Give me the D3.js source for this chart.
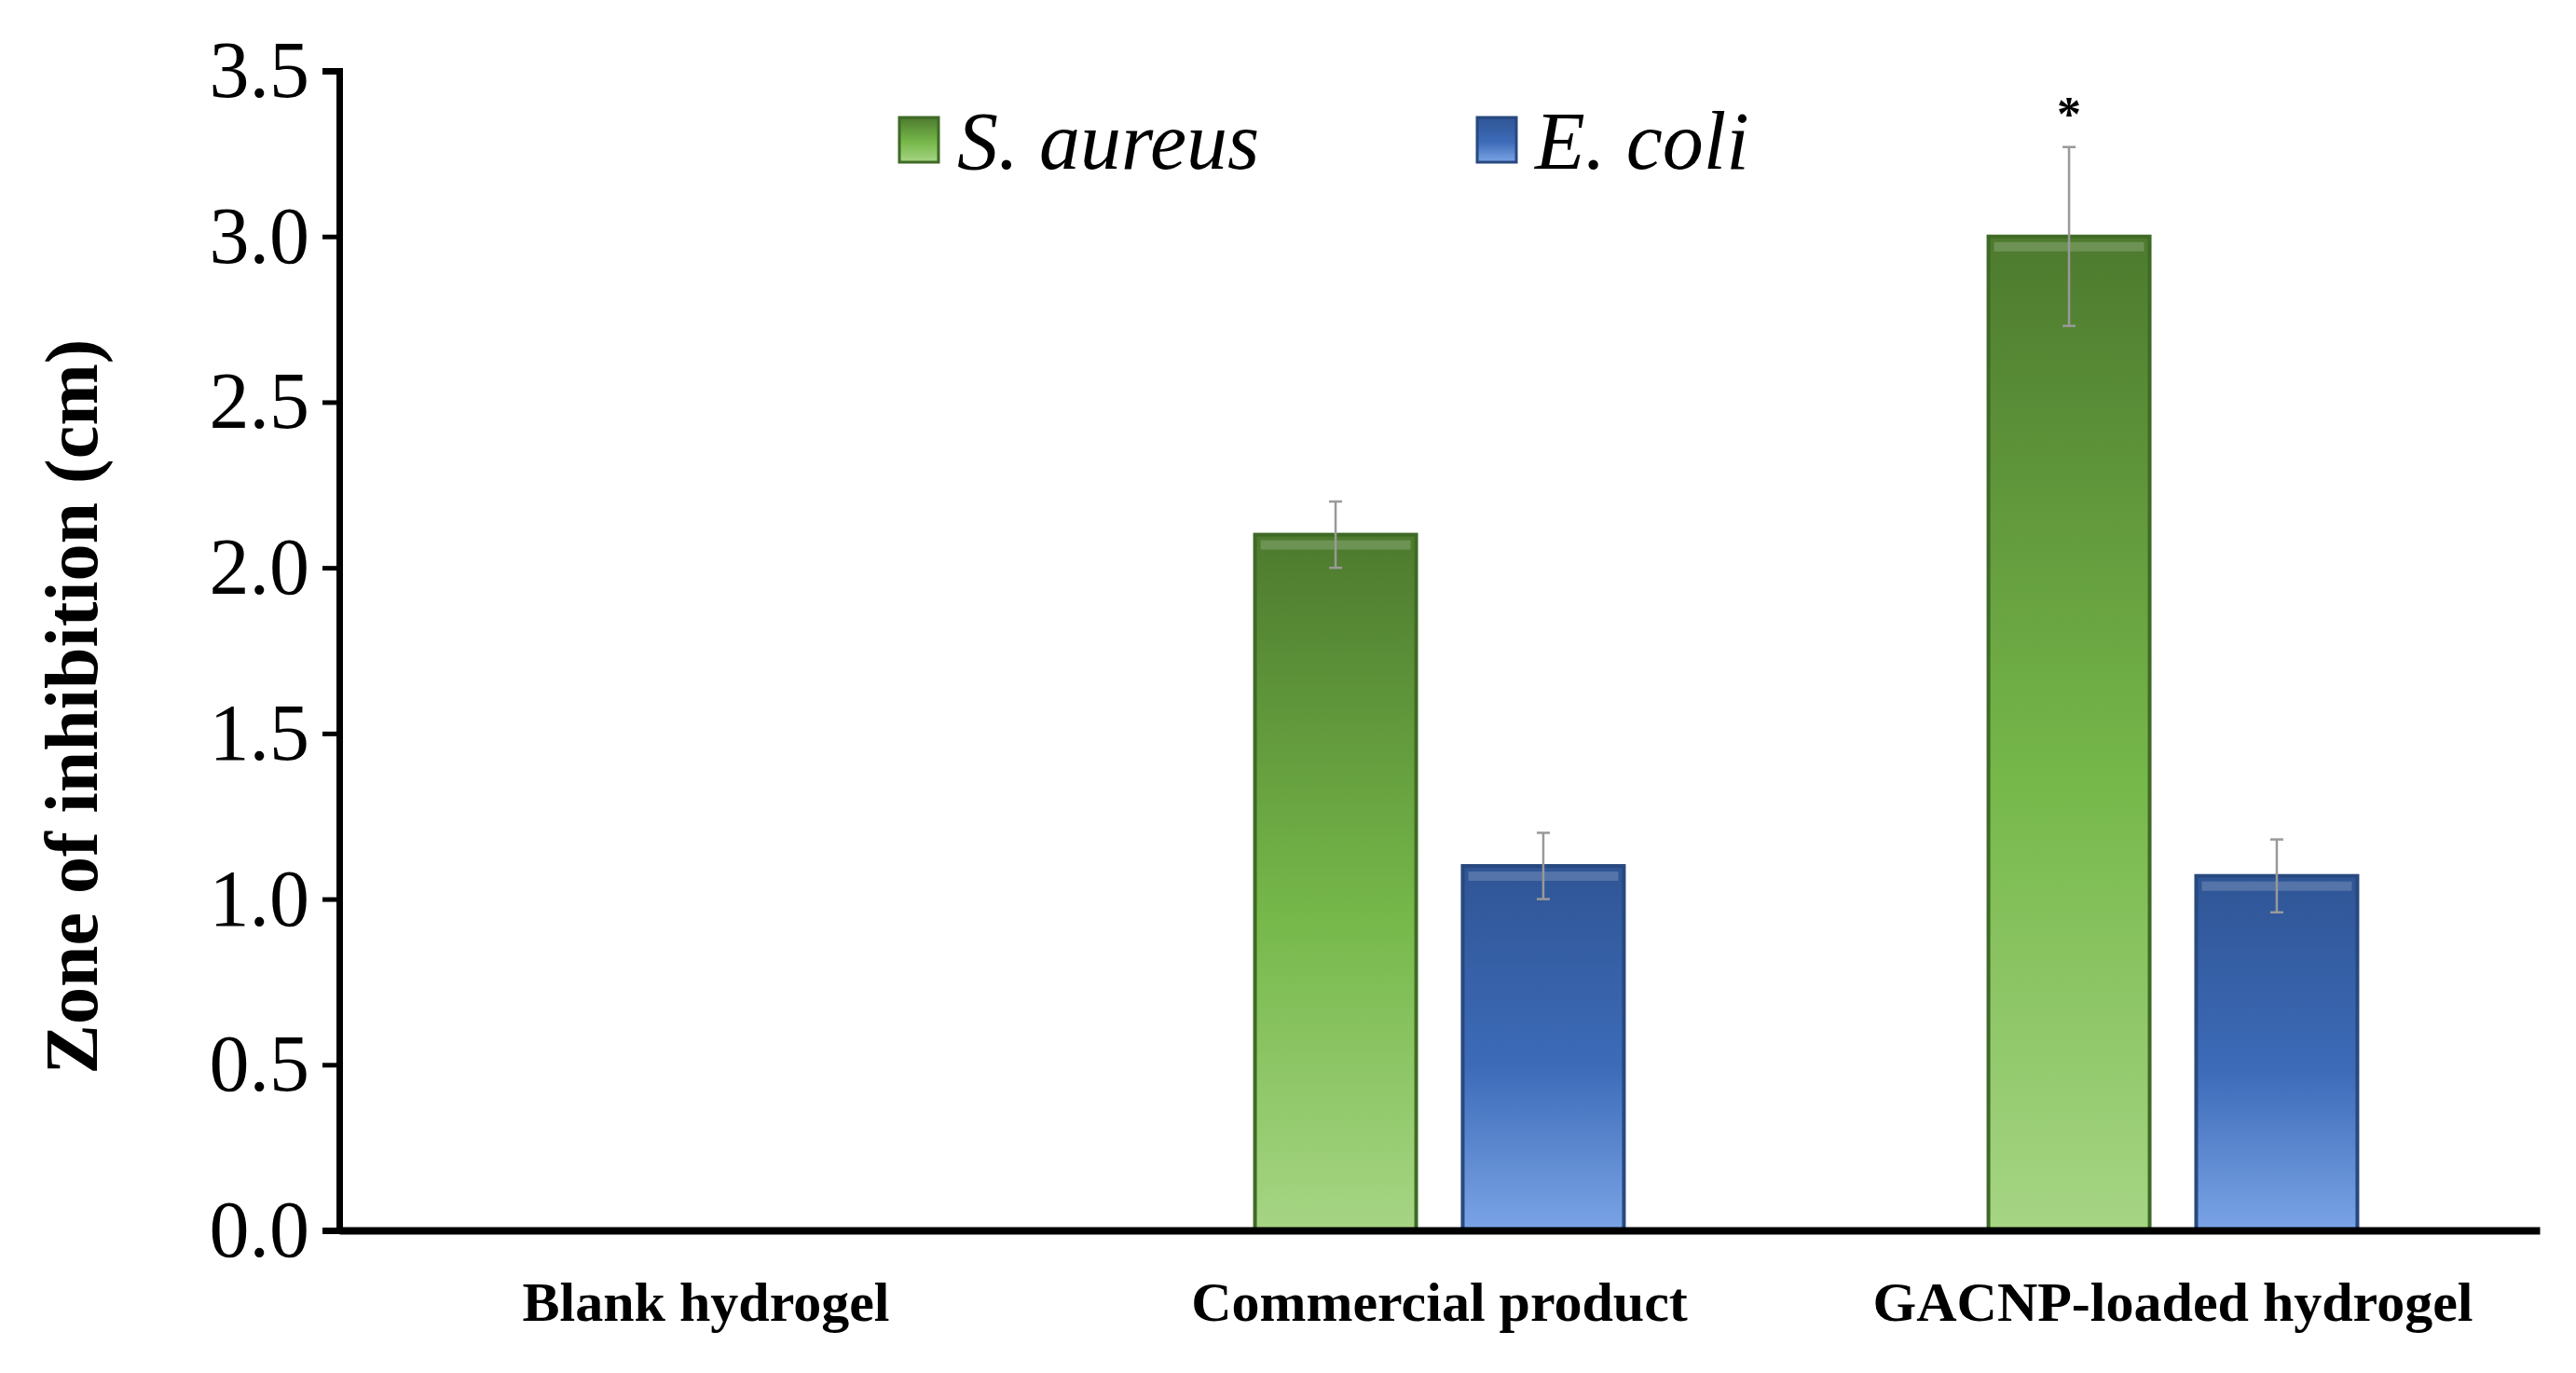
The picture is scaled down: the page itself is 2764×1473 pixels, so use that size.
<!DOCTYPE html>
<html><head><meta charset="utf-8">
<script src="https://cdn.jsdelivr.net/npm/d3@7"></script>
<style>body{margin:0;background:#fff}</style></head>
<body><svg id="c" width="2764" height="1473"></svg>
<script>
const categories = ["Blank hydrogel","Commercial product","GACNP-loaded hydrogel"];
const series = ["S. aureus","E. coli"];
const saureus = [0, 2.1, 3.0];
const saureusErr = [0, 0.1, 0.27];
const ecoli = [0, 1.1, 1.07];
const ecoliErr = [0, 0.1, 0.11];
const yTicks = [0,0.5,1,1.5,2,2.5,3,3.5];
const signif = [null, null, "*"];

const svg = d3.select("#c");
const defs = svg.append("defs");
function grad(id, top, mid, bot){
  const g = defs.append("linearGradient").attr("id",id).attr("x1",0).attr("y1",0).attr("x2",0).attr("y2",1);
  g.append("stop").attr("offset","0%").attr("stop-color",top);
  g.append("stop").attr("offset","55%").attr("stop-color",mid);
  g.append("stop").attr("offset","100%").attr("stop-color",bot);
}
grad("gG","#4d7a2e","#76b84a","#a6d584");
grad("gB","#2f5595","#3d6bb8","#7aa4e6");
const fills = ["url(#gG)","url(#gB)"];
const strokes = ["#3f6a26","#28497f"];

const x0 = 364, x1 = 2725, yB = 1320, yT = 76;
const x = d3.scaleBand().domain(categories).range([x0,x1]).paddingInner(0).paddingOuter(0);
const xs = d3.scaleBand().domain(series).range([0,x.bandwidth()*0.503]).paddingInner(0.224);
const y = d3.scaleLinear().domain([0,3.5]).range([yB,yT]);

const data = categories.map((c,i)=>({c, vals:[{s:series[0],v:saureus[i],e:saureusErr[i],k:0},{s:series[1],v:ecoli[i],e:ecoliErr[i],k:1}]}));
const grpW = x.bandwidth()*0.503;
const groups = svg.selectAll("g.grp").data(data).enter().append("g")
  .attr("transform",d=>`translate(${x(d.c)+(x.bandwidth()-grpW)/2},0)`);
const bars = groups.selectAll("g.b").data(d=>d.vals.filter(v=>v.v>0)).enter().append("g");
bars.append("rect").attr("x",d=>xs(d.s)).attr("width",xs.bandwidth())
  .attr("y",d=>y(d.v)).attr("height",d=>yB-y(d.v))
  .attr("fill",d=>fills[d.k]).attr("stroke",d=>strokes[d.k]).attr("stroke-width",4);
bars.append("rect").attr("x",d=>xs(d.s)+6).attr("width",xs.bandwidth()-12)
  .attr("y",d=>y(d.v)+6).attr("height",10).attr("fill","#fff").attr("opacity",0.18);
const eb = bars.append("g").attr("stroke","#999").attr("stroke-width",2.5);
eb.append("line").attr("x1",d=>xs(d.s)+xs.bandwidth()/2).attr("x2",d=>xs(d.s)+xs.bandwidth()/2)
  .attr("y1",d=>y(d.v-d.e)).attr("y2",d=>y(d.v+d.e));
eb.append("line").attr("x1",d=>xs(d.s)+xs.bandwidth()/2-7).attr("x2",d=>xs(d.s)+xs.bandwidth()/2+7)
  .attr("y1",d=>y(d.v+d.e)).attr("y2",d=>y(d.v+d.e));
eb.append("line").attr("x1",d=>xs(d.s)+xs.bandwidth()/2-7).attr("x2",d=>xs(d.s)+xs.bandwidth()/2+7)
  .attr("y1",d=>y(d.v-d.e)).attr("y2",d=>y(d.v-d.e));
groups.filter((d,i)=>signif[i]).append("text")
  .attr("x",(d)=>xs(series[0])+xs.bandwidth()/2)
  .attr("y",(d,i)=>y(d.vals[0].v+d.vals[0].e)-18)
  .attr("text-anchor","middle").attr("font-family","Liberation Serif").attr("font-weight","bold")
  .attr("font-size",52).text(d=>signif[categories.indexOf(d.c)]);

const ya = svg.append("g").attr("transform",`translate(${x0},0)`)
  .call(d3.axisLeft(y).tickValues(yTicks).tickFormat(d3.format(".1f")).tickSize(18).tickPadding(14));
ya.select(".domain").attr("stroke","#000").attr("stroke-width",7);
ya.selectAll(".tick line").attr("stroke","#000").attr("stroke-width",5);
ya.selectAll("text").attr("font-family","Liberation Serif").attr("font-size",86).attr("fill","#000");
const xa = svg.append("g").attr("transform",`translate(0,${yB})`)
  .call(d3.axisBottom(x).tickSize(0).tickPadding(54));
xa.select(".domain").attr("stroke","#000").attr("stroke-width",8);
xa.selectAll("text").attr("font-family","Liberation Serif").attr("font-weight","bold").attr("font-size",60).attr("fill","#000");

svg.append("text").attr("transform",`translate(104,${(yB+yT)/2+60}) rotate(-90)`)
  .attr("text-anchor","middle").attr("font-family","Liberation Serif").attr("font-weight","bold")
  .attr("font-size",80).text("Zone of inhibition (cm)");

const leg = [{s:series[0],x:965,k:0},{s:series[1],x:1585,k:1}];
const lg = svg.selectAll("g.leg").data(leg).enter().append("g").attr("transform",d=>`translate(${d.x},126)`);
lg.append("rect").attr("width",42).attr("height",48).attr("fill",d=>fills[d.k]).attr("stroke",d=>strokes[d.k]).attr("stroke-width",3);
lg.append("text").attr("x",62).attr("y",55).attr("font-family","Liberation Serif").attr("font-style","italic")
  .attr("font-size",88).text(d=>d.s);
</script></body></html>
